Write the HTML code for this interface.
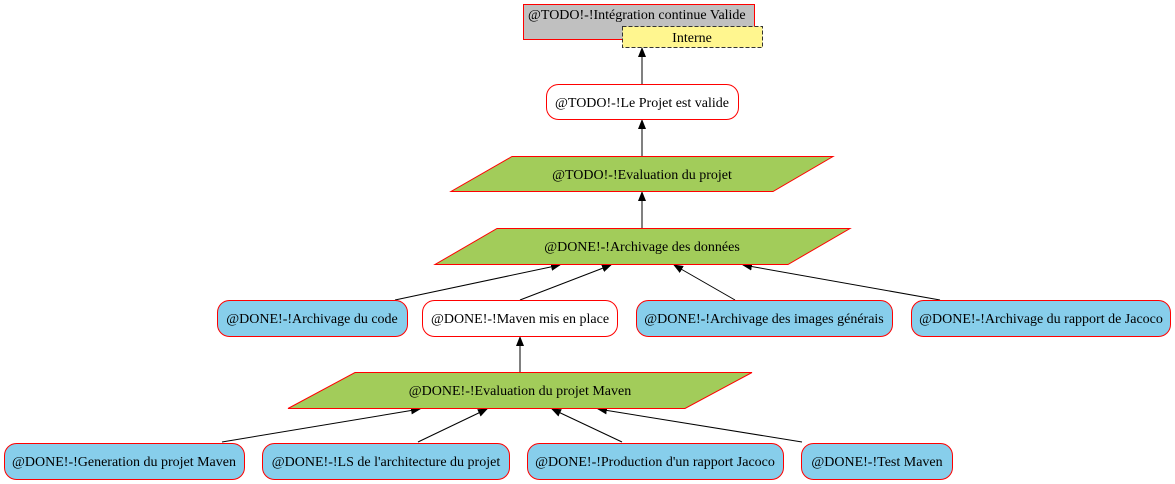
<!DOCTYPE html>
<html><head><meta charset="utf-8"><style>
body{margin:0;background:#fff}
svg{display:block}
text{font-family:"Liberation Serif",serif;font-size:14px;fill:#000}
</style></head><body>
<svg width="1175" height="484" viewBox="0 0 1175 484" xmlns="http://www.w3.org/2000/svg">
<defs><marker id="a" markerWidth="10" markerHeight="10" refX="9" refY="5" orient="auto" markerUnits="userSpaceOnUse"><path d="M0,1 L10,5 L0,9 z" fill="#000"/></marker></defs>
<g stroke="#000" stroke-width="1" fill="none" marker-end="url(#a)">
<line x1="642" y1="84" x2="642" y2="48"/>
<line x1="642" y1="156" x2="642" y2="120"/>
<line x1="642" y1="228" x2="642" y2="192"/>
<line x1="395" y1="300" x2="560" y2="265"/>
<line x1="520" y1="300" x2="611" y2="265"/>
<line x1="735" y1="300" x2="674" y2="265"/>
<line x1="940" y1="300" x2="743" y2="265"/>
<line x1="520" y1="372" x2="520" y2="337"/>
<line x1="222" y1="442" x2="420" y2="409"/>
<line x1="418" y1="442" x2="487" y2="409"/>
<line x1="622" y1="442" x2="552" y2="409"/>
<line x1="802" y1="442" x2="598" y2="409"/>
</g>
<rect x="523.5" y="4.5" width="231" height="35" fill="#c0c0c0" stroke="#f00"/>
<text x="528" y="19">@TODO!-!Intégration continue Valide</text>
<rect x="622.5" y="26.5" width="140" height="21" fill="#fff68f" stroke="#333" stroke-dasharray="4,2"/>
<text x="692" y="42" text-anchor="middle">Interne</text>
<rect x="546.5" y="84.5" width="192" height="35" rx="12" fill="#fff" stroke="#f00"/>
<text x="642" y="107" text-anchor="middle">@TODO!-!Le Projet est valide</text>
<polygon points="512,156.5 833,156.5 773,191.5 451,191.5" fill="#a2cc5a" stroke="#f00"/>
<text x="642" y="179" text-anchor="middle">@TODO!-!Evaluation du projet</text>
<polygon points="497,228.5 850,228.5 788,264.5 435,264.5" fill="#a2cc5a" stroke="#f00"/>
<text x="642" y="251" text-anchor="middle">@DONE!-!Archivage des données</text>
<rect x="217.5" y="300.5" width="190" height="36" rx="12" fill="#87ceeb" stroke="#f00"/>
<text x="312" y="323" text-anchor="middle">@DONE!-!Archivage du code</text>
<rect x="422.5" y="300.5" width="195" height="36" rx="12" fill="#fff" stroke="#f00"/>
<text x="520" y="323" text-anchor="middle">@DONE!-!Maven mis en place</text>
<rect x="636.5" y="300.5" width="256" height="36" rx="12" fill="#87ceeb" stroke="#f00"/>
<text x="764" y="323" text-anchor="middle">@DONE!-!Archivage des images générais</text>
<rect x="911.5" y="300.5" width="259" height="36" rx="12" fill="#87ceeb" stroke="#f00"/>
<text x="1041" y="323" text-anchor="middle">@DONE!-!Archivage du rapport de Jacoco</text>
<polygon points="355,372.5 752,372.5 685,408.5 288,408.5" fill="#a2cc5a" stroke="#f00"/>
<text x="520" y="395" text-anchor="middle">@DONE!-!Evaluation du projet Maven</text>
<rect x="4.5" y="443.5" width="240" height="36" rx="12" fill="#87ceeb" stroke="#f00"/>
<text x="124" y="466" text-anchor="middle">@DONE!-!Generation du projet Maven</text>
<rect x="262.5" y="443.5" width="247" height="36" rx="12" fill="#87ceeb" stroke="#f00"/>
<text x="386" y="466" text-anchor="middle">@DONE!-!LS de l'architecture du projet</text>
<rect x="527.5" y="443.5" width="256" height="36" rx="12" fill="#87ceeb" stroke="#f00"/>
<text x="655" y="466" text-anchor="middle">@DONE!-!Production d'un rapport Jacoco</text>
<rect x="801.5" y="443.5" width="151" height="36" rx="12" fill="#87ceeb" stroke="#f00"/>
<text x="877" y="466" text-anchor="middle">@DONE!-!Test Maven</text>
</svg>
</body></html>
